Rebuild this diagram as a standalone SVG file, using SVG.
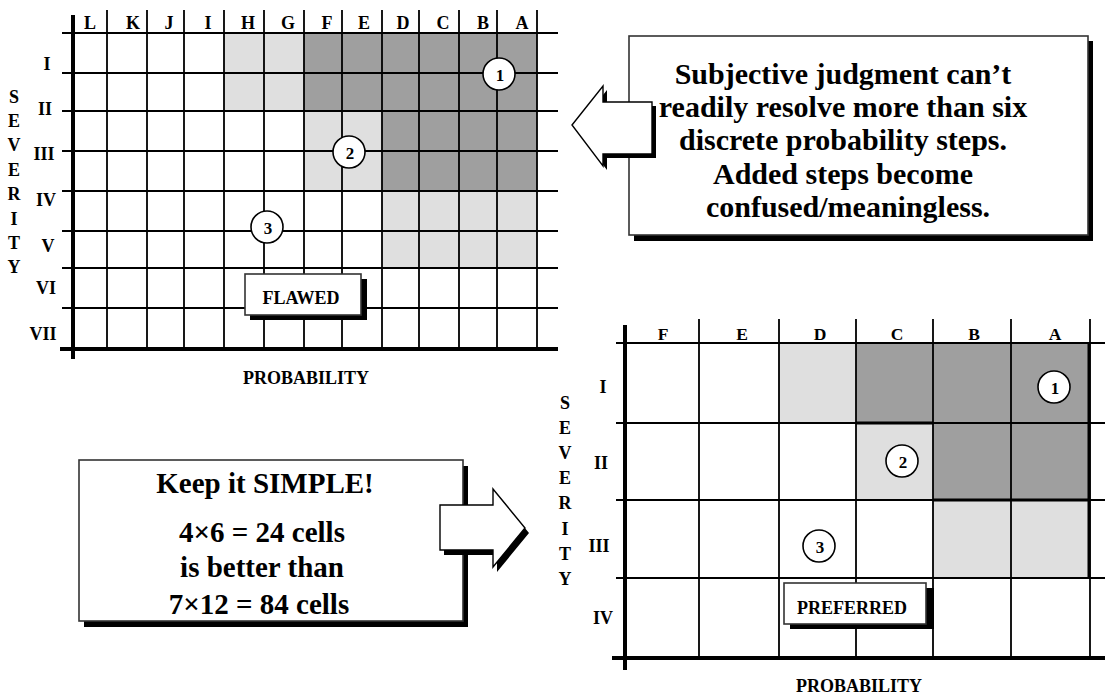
<svg xmlns="http://www.w3.org/2000/svg" width="1105" height="694" viewBox="0 0 1105 694">
<style>
text{font-family:"Liberation Serif","Times New Roman",serif;font-weight:bold;fill:#000}
.lbl{font-size:18px;text-anchor:middle}
.hdr{font-size:18px;text-anchor:middle}
.hdr2{font-size:17.5px;text-anchor:middle}
.big{font-size:30px;text-anchor:middle}
.mid{font-size:29px;text-anchor:middle}
.num{font-size:17px;text-anchor:middle}
.grid{stroke:#000;stroke-width:1.8;fill:none}
.axis{stroke:#000;stroke-width:4;fill:none}
.dark{fill:#9f9f9f}
.light{fill:#dfdfdf}
.circ{fill:#fff;stroke:#000;stroke-width:1.6}
.box{fill:#fff;stroke:#333;stroke-width:1.6}
.shadow{fill:#000}
.arrow{fill:#fff;stroke:#000;stroke-width:1.4;stroke-linejoin:miter}
</style>

<g id="grid-flawed">
  <rect class="light" x="224" y="33" width="80" height="78"/>
  <rect class="dark" x="304" y="33" width="233" height="78"/>
  <rect class="light" x="304" y="111" width="78" height="80"/>
  <rect class="dark" x="382" y="111" width="155" height="80"/>
  <rect class="light" x="382" y="191" width="155" height="77"/>
  <path class="grid" d="M107 10V349M147 10V349M184 10V349M224 10V349M264 10V349M304 10V349M342 10V349M382 10V349M419 10V349M459 10V349M497 10V349M537 10V349"/>
  <path class="grid" d="M62 33H558M62 73H558M62 111H558M62 151H558M62 191H558M62 231H558M62 268H558M62 308H558"/>
  <path class="axis" d="M73 15V359M60 349H558"/>
  <text class="hdr" x="90" y="29">L</text>
  <text class="hdr" x="133" y="29">K</text>
  <text class="hdr" x="169" y="29">J</text>
  <text class="hdr" x="208" y="29">I</text>
  <text class="hdr" x="248" y="29">H</text>
  <text class="hdr" x="288" y="29">G</text>
  <text class="hdr" x="327" y="29">F</text>
  <text class="hdr" x="364" y="29">E</text>
  <text class="hdr" x="403" y="29">D</text>
  <text class="hdr" x="443" y="29">C</text>
  <text class="hdr" x="483" y="29">B</text>
  <text class="hdr" x="522" y="29">A</text>
  <text class="lbl" x="47" y="70">I</text>
  <text class="lbl" x="45" y="115">II</text>
  <text class="lbl" x="44" y="160">III</text>
  <text class="lbl" x="46" y="206">IV</text>
  <text class="lbl" x="48" y="252">V</text>
  <text class="lbl" x="46" y="294">VI</text>
  <text class="lbl" x="43" y="340">VII</text>
  <text class="lbl" x="14" y="103">S</text>
  <text class="lbl" x="14" y="127">E</text>
  <text class="lbl" x="14" y="151">V</text>
  <text class="lbl" x="14" y="176">E</text>
  <text class="lbl" x="14" y="200">R</text>
  <text class="lbl" x="14" y="225">I</text>
  <text class="lbl" x="14" y="249">T</text>
  <text class="lbl" x="14" y="273">Y</text>
  <text class="lbl" x="306" y="384">PROBABILITY</text>
  <circle class="circ" cx="499" cy="74" r="16"/>
  <text class="num" x="500" y="81">1</text>
  <circle class="circ" cx="349" cy="152" r="16"/>
  <text class="num" x="350" y="159">2</text>
  <circle class="circ" cx="267" cy="227" r="16"/>
  <text class="num" x="268" y="234">3</text>
  <rect class="shadow" x="250" y="279" width="117" height="41"/>
  <rect class="box" x="245" y="274" width="116" height="41"/>
  <text class="lbl" x="301" y="304">FLAWED</text>
</g>

<g id="grid-preferred">
  <rect class="light" x="779" y="343" width="77" height="80"/>
  <rect class="dark" x="856" y="343" width="77" height="80"/>
  <rect class="dark" x="933" y="343" width="157" height="157"/>
  <rect class="light" x="856" y="423" width="77" height="77"/>
  <rect class="light" x="933" y="500" width="157" height="78"/>
  <path class="grid" d="M699 319V658M779 319V658M856 319V658M933 319V658M1011 319V658M1090 319V658"/>
  <path class="grid" d="M616 343H1105M616 423H1105M616 500H1105M616 578H1105"/>
  <path stroke="#000" stroke-width="3" fill="none" d="M1089 343V578M856 423H933M933 500H1090"/>
  <path class="axis" d="M625 325V670M612 658H1105"/>
  <text class="hdr2" x="663" y="340">F</text>
  <text class="hdr2" x="742" y="340">E</text>
  <text class="hdr2" x="820" y="340">D</text>
  <text class="hdr2" x="897" y="340">C</text>
  <text class="hdr2" x="974" y="340">B</text>
  <text class="hdr2" x="1055" y="340">A</text>
  <text class="lbl" x="603" y="393">I</text>
  <text class="lbl" x="601" y="469">II</text>
  <text class="lbl" x="599" y="552">III</text>
  <text class="lbl" x="603" y="624">IV</text>
  <text class="lbl" x="565" y="409">S</text>
  <text class="lbl" x="565" y="434">E</text>
  <text class="lbl" x="565" y="459">V</text>
  <text class="lbl" x="565" y="484">E</text>
  <text class="lbl" x="565" y="509">R</text>
  <text class="lbl" x="565" y="535">I</text>
  <text class="lbl" x="565" y="560">T</text>
  <text class="lbl" x="565" y="585">Y</text>
  <text class="lbl" x="859" y="692">PROBABILITY</text>
  <circle class="circ" cx="1054" cy="387" r="16"/>
  <text class="num" x="1055" y="394">1</text>
  <circle class="circ" cx="902" cy="461" r="16"/>
  <text class="num" x="903" y="468">2</text>
  <circle class="circ" cx="819" cy="546" r="16"/>
  <text class="num" x="820" y="553">3</text>
  <rect class="shadow" x="790" y="588" width="144" height="41"/>
  <rect class="box" x="784" y="583" width="142" height="41"/>
  <text class="lbl" x="852" y="614">PREFERRED</text>
</g>

<g id="note-top">
  <rect class="shadow" x="634" y="41" width="459" height="200"/>
  <rect class="box" x="629" y="36" width="459" height="199"/>
  <text class="big" x="843" y="84">Subjective judgment can’t</text>
  <text class="big" x="843" y="117">readily resolve more than six</text>
  <text class="big" x="843" y="150">discrete probability steps.</text>
  <text class="big" x="843" y="184">Added steps become</text>
  <text class="big" x="848" y="217">confused/meaningless.</text>
</g>

<g id="note-bottom">
  <rect class="shadow" x="84" y="466" width="384" height="161"/>
  <rect class="box" x="79" y="460" width="384" height="161"/>
  <text class="mid" x="265" y="493">Keep it SIMPLE!</text>
  <text class="mid" x="262" y="542">4×6 = 24 cells</text>
  <text class="mid" x="262" y="577">is better than</text>
  <text class="mid" x="259" y="614">7×12 = 84 cells</text>
</g>

<g id="connectors">
  <polygon class="shadow" points="576,129 607,90 607,106 656,106 656,158 607,158 607,170"/>
  <polygon class="arrow" points="572,125 603,86 603,102 652,102 652,154 603,154 603,166"/>
  <polygon class="shadow" points="444,510 497,510 497,494 529,533 497,572 497,555 444,555"/>
  <polygon class="arrow" points="440,505 493,505 493,489 525,528 493,567 493,550 440,550"/>
</g>
</svg>
